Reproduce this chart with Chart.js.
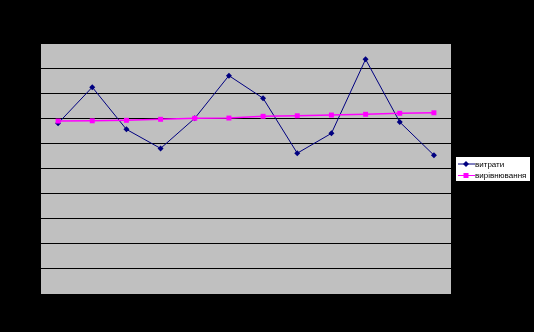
<!DOCTYPE html>
<html>
<head>
<meta charset="utf-8">
<script src="https://cdn.jsdelivr.net/npm/chart.js@4.4.0/dist/chart.umd.min.js"></script>
<style>
html,body{margin:0;padding:0;background:#000;}
#wrap{width:534px;height:332px;position:relative;}
</style>
</head>
<body>
<div id="wrap"><canvas id="c" width="534" height="332"></canvas></div>
<script>
const categories = ["1","2","3","4","5","6","7","8","9","10","11","12"];
const expenses = [6.80, 8.24, 6.56, 5.80, 7.00, 8.70, 7.80, 5.61, 6.40, 9.35, 6.85, 5.53];
const trend = [6.89, 6.90, 6.92, 6.96, 7.00, 7.01, 7.08, 7.10, 7.13, 7.16, 7.20, 7.22];
const seriesNames = ["витрати", "вирівнювання"];

const bgPlugin = {
  id: 'bg',
  beforeDraw(chart) {
    const ctx = chart.ctx, a = chart.chartArea;
    ctx.save();
    ctx.fillStyle = '#000';
    ctx.fillRect(0, 0, chart.width, chart.height);
    ctx.fillStyle = '#C0C0C0';
    ctx.fillRect(a.left, a.top, a.right - a.left, a.bottom - a.top);
    ctx.restore();
  },
  afterDraw(chart) {
    const ctx = chart.ctx;
    ctx.save();
    const x = 456, y = 157, w = 74, h = 24;
    ctx.fillStyle = '#fff';
    ctx.fillRect(x, y, w, h);
    ctx.font = '8px "Liberation Sans", Arial, sans-serif';
    ctx.textBaseline = 'middle';
    chart.data.datasets.forEach((ds, i) => {
      const cy = y + 7 + i * 11.5;
      ctx.strokeStyle = ds.borderColor;
      ctx.lineWidth = 1;
      ctx.beginPath();
      ctx.moveTo(x + 2, cy);
      ctx.lineTo(x + 19, cy);
      ctx.stroke();
      ctx.fillStyle = ds.borderColor;
      const mx = x + 10;
      if (ds.pointStyle === 'rect') {
        ctx.fillRect(mx - 2.5, cy - 2.5, 5, 5);
      } else {
        ctx.beginPath();
        ctx.moveTo(mx, cy - 3);
        ctx.lineTo(mx + 3, cy);
        ctx.lineTo(mx, cy + 3);
        ctx.lineTo(mx - 3, cy);
        ctx.closePath();
        ctx.fill();
      }
      ctx.fillStyle = '#000';
      ctx.fillText(ds.label, x + 19, cy + 0.5);
    });
    ctx.restore();
  }
};

new Chart(document.getElementById('c'), {
  type: 'line',
  data: {
    labels: categories,
    datasets: [
      {
        label: seriesNames[0],
        data: expenses,
        borderColor: '#000080',
        backgroundColor: '#000080',
        borderWidth: 1,
        pointStyle: 'rectRot',
        pointRadius: 3,
        pointBorderWidth: 0,
        tension: 0,
        order: 1
      },
      {
        label: seriesNames[1],
        data: trend,
        borderColor: '#FF00FF',
        backgroundColor: '#FF00FF',
        borderWidth: 1.5,
        pointStyle: 'rect',
        pointRadius: 3.5,
        pointBorderWidth: 0,
        tension: 0,
        order: 0
      }
    ]
  },
  options: {
    responsive: false,
    animation: false,
    devicePixelRatio: 1,
    layout: { padding: { left: 41, top: 43, right: 83, bottom: 38 } },
    plugins: { legend: { display: false }, tooltip: { enabled: false } },
    scales: {
      x: {
        display: true,
        offset: true,
        grid: { display: false, drawTicks: false },
        border: { display: false },
        ticks: { display: false }
      },
      y: {
        display: true,
        min: 0, max: 10,
        grid: { color: '#000', lineWidth: 1, drawTicks: false },
        border: { display: false },
        ticks: { display: false, stepSize: 1 }
      }
    }
  },
  plugins: [bgPlugin]
});
</script>
</body>
</html>
